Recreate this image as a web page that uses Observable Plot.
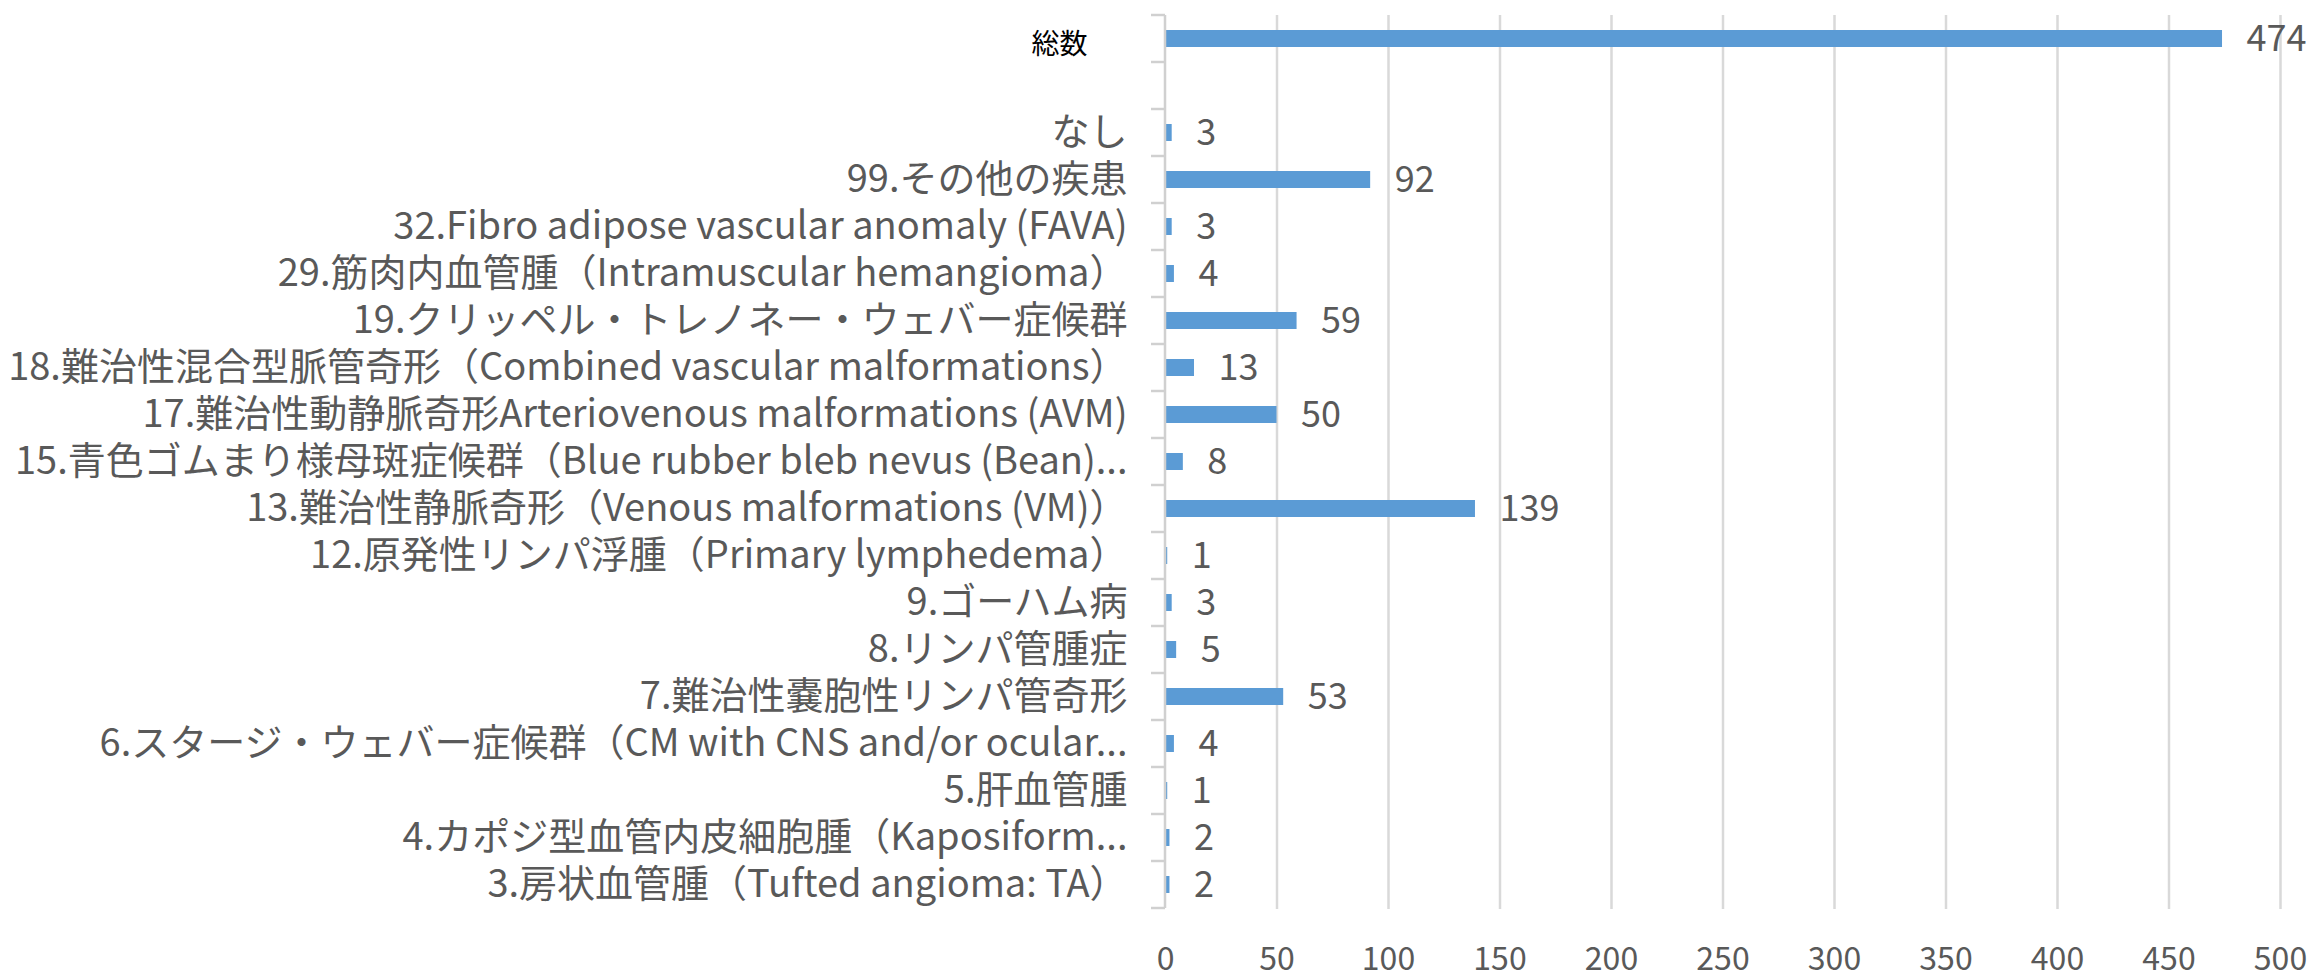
<!DOCTYPE html>
<html>
<head>
<meta charset="utf-8">
<script src="https://cdn.jsdelivr.net/npm/d3@7"></script>
<script src="https://cdn.jsdelivr.net/npm/@observablehq/plot@0.6"></script>
<style>
  html, body { margin: 0; padding: 0; background: #fff; }
  #chart { width: 2317px; height: 980px; }
  svg { font-family: "Noto Sans CJK JP", "Noto Sans", sans-serif; }
</style>
</head>
<body>
<div id="chart"></div>
<script>
const TOTAL = "総数";
const BLANK = " ";
const categories = [
  TOTAL,
  BLANK,
  "なし",
  "99.その他の疾患",
  "32.Fibro adipose vascular anomaly (FAVA)",
  "29.筋肉内血管腫（Intramuscular hemangioma）",
  "19.クリッペル・トレノネー・ウェバー症候群",
  "18.難治性混合型脈管奇形（Combined vascular malformations）",
  "17.難治性動静脈奇形Arteriovenous malformations (AVM)",
  "15.青色ゴムまり様母斑症候群（Blue rubber bleb nevus (Bean)...",
  "13.難治性静脈奇形（Venous malformations (VM)）",
  "12.原発性リンパ浮腫（Primary lymphedema）",
  "9.ゴーハム病",
  "8.リンパ管腫症",
  "7.難治性嚢胞性リンパ管奇形",
  "6.スタージ・ウェバー症候群（CM with CNS and/or ocular...",
  "5.肝血管腫",
  "4.カポジ型血管内皮細胞腫（Kaposiform...",
  "3.房状血管腫（Tufted angioma: TA）"
];
const values = [474, null, 3, 92, 3, 4, 59, 13, 50, 8, 139, 1, 3, 5, 53, 4, 1, 2, 2];
const xTicks = [0, 50, 100, 150, 200, 250, 300, 350, 400, 450, 500];

const rows = categories.map((c, i) => ({category: c, value: values[i]})).filter(d => d.value != null);
const labelCats = categories.filter(c => c !== TOTAL && c !== BLANK);

const GRAY = "#595959";
const LINE = "#D9D9D9";

// axis line + category boundary tick marks (Excel style)
function boundaryAxis(index, scales, values, dimensions) {
  const y = scales.y, x = scales.x;
  const step = y(categories[1]) - y(categories[0]);
  const bw = typeof y.bandwidth === "function" ? y.bandwidth() : 0;
  const x0 = x(0);
  const g = d3.create("svg:g");
  const edges = categories.map(c => y(c) + bw / 2 - step / 2);
  edges.push(edges[edges.length - 1] + step);
  g.append("line")
    .attr("x1", x0).attr("x2", x0)
    .attr("y1", edges[0]).attr("y2", edges[edges.length - 1])
    .attr("stroke", "#D0D0D0").attr("stroke-width", 2.5);
  for (const e of edges) {
    g.append("line")
      .attr("x1", x0 - 14).attr("x2", x0)
      .attr("y1", e).attr("y2", e)
      .attr("stroke", "#D0D0D0").attr("stroke-width", 2.5);
  }
  return g.node();
}

const chart = Plot.plot({
  width: 2317,
  height: 980,
  marginLeft: 1165,
  marginRight: 37,
  marginTop: 15,
  marginBottom: 71,
  style: {fontFamily: '"Noto Sans CJK JP", "Noto Sans", sans-serif', color: GRAY, background: "#fff"},
  x: {domain: [0, 500], axis: null},
  y: {domain: categories, paddingInner: 0.63, paddingOuter: 0.315, axis: null},
  marks: [
    Plot.gridX(xTicks.filter(t => t > 0), {stroke: LINE, strokeOpacity: 1, strokeWidth: 2.5}),
    Plot.axisX(xTicks, {tickSize: 0, tickPadding: 38, fontSize: 32, fill: GRAY, label: null}),
    Plot.axisY(labelCats, {tickSize: 0, tickPadding: 38, fontSize: 38, fill: GRAY, label: null}),
    Plot.barX(rows, {x: "value", y: "category", fill: "#5B9BD5"}),
    boundaryAxis,
    Plot.text(rows, {x: "value", y: "category", text: d => String(d.value), textAnchor: "start", dx: 24, fontSize: 36, fill: GRAY}),
    Plot.text([TOTAL], {x: 0, y: d => d, text: d => d, textAnchor: "end", dx: -78, dy: 6, fontSize: 28, fill: "#000"})
  ]
});
document.getElementById("chart").appendChild(chart);
</script>
</body>
</html>
